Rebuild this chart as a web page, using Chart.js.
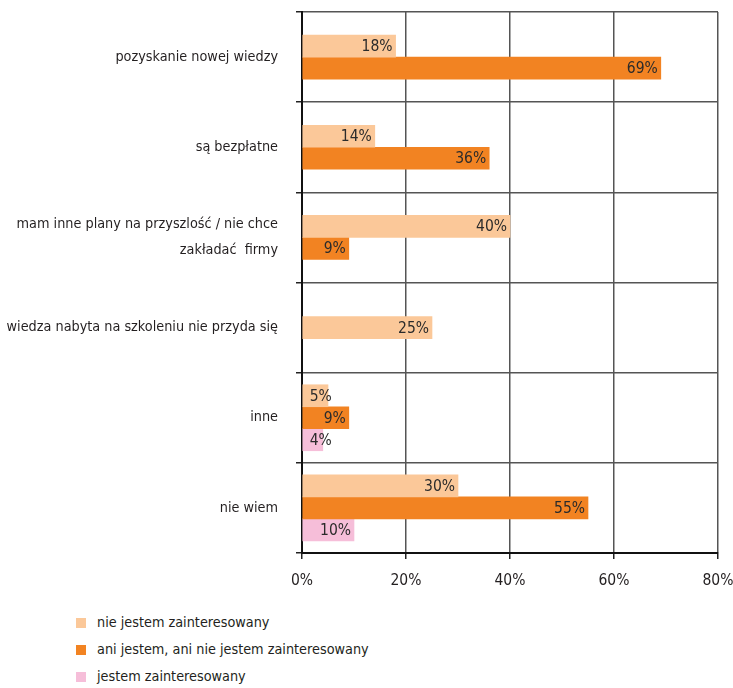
<!DOCTYPE html>
<html>
<head>
<meta charset="utf-8">
<script src="https://cdn.jsdelivr.net/npm/chart.js@4"></script>
<style>
    body { margin: 0; background: #fff; }
    #wrap { position: relative; width: 733px; height: 688px; }
    #legend { position: absolute; left: 76px; top: 609px; font: 14.3px "DejaVu Sans Condensed", "Liberation Sans Narrow", sans-serif; color: #231f20; }
    #legend div { height: 27px; line-height: 27px; }
    #legend span { display: inline-block; width: 10px; height: 10px; margin-right: 11px; vertical-align: -1px; }
</style>
</head>
<body>
<div id="wrap">
    <canvas id="powody" width="733" height="600"></canvas>
    <div id="legend"></div>
</div>
<script>
const categories = [
    'pozyskanie nowej wiedzy',
    'są bezpłatne',
    ['mam inne plany na przyszlość / nie chce', 'zakładać  firmy'],
    'wiedza nabyta na szkoleniu nie przyda się',
    'inne',
    'nie wiem'
];
const seriesNames = ['nie jestem zainteresowany', 'ani jestem, ani nie jestem zainteresowany', 'jestem zainteresowany'];
const notInterested = [18, 14, 40, 25, 5, 30];
const neutral = [69, 36, 9, null, 9, 55];
const interested = [null, null, null, null, 4, 10];
const xTicks = [0, 20, 40, 60, 80];

const colors = ['#fbc899', '#f28322', '#f6bed9'];
const fontFamily = '"DejaVu Sans Condensed", "Liberation Sans Narrow", sans-serif';
const textColor = '#231f20';

// percentage written at the inner end of every bar
const valueLabels = {
    id: 'valueLabels',
    afterDatasetsDraw(chart) {
        var ctx = chart.ctx;
        ctx.save();
        ctx.font = '15.5px ' + fontFamily;
        ctx.fillStyle = '#2b2b2b';
        ctx.textAlign = 'right';
        ctx.textBaseline = 'middle';
        chart.data.datasets.forEach(function (ds, i) {
            chart.getDatasetMeta(i).data.forEach(function (bar, j) {
                var v = ds.data[j];
                if (v == null) return;
                var text = v + '%';
                var w = ctx.measureText(text).width;
                var x = Math.max(bar.x - 3, bar.base + 7 + w);
                ctx.fillText(text, x, bar.y + 1);
            });
        });
        ctx.restore();
    }
};

var ctx = document.getElementById('powody').getContext('2d');
var chart = new Chart(ctx, {
    type: 'bar',
    data: {
        labels: categories,
        datasets: [notInterested, neutral, interested].map(function (d, i) {
            return {
                label: seriesNames[i],
                data: d,
                backgroundColor: colors[i],
                borderWidth: 0,
                barThickness: 22,
                skipNull: true
            };
        })
    },
    options: {
        indexAxis: 'y',
        responsive: false,
        animation: false,
        layout: { padding: { top: 12, right: 15, left: 0, bottom: 0 } },
        plugins: {
            legend: { display: false },
            tooltip: { enabled: false }
        },
        scales: {
            x: {
                min: xTicks[0],
                max: xTicks[xTicks.length - 1],
                afterBuildTicks: function (s) { s.ticks = xTicks.map(function (v) { return { value: v }; }); },
                afterFit: function (s) { s.height = 47; s.paddingLeft = 0; s.paddingRight = 0; },
                ticks: {
                    callback: function (v) { return v + '%'; },
                    font: { family: fontFamily, size: 15.5 },
                    color: textColor,
                    padding: 13
                },
                grid: { color: '#555', lineWidth: 1.5, tickLength: 6, tickColor: '#222' },
                border: { color: '#111', width: 2 }
            },
            y: {
                afterFit: function (s) { s.width = 302; s.paddingTop = 0; s.paddingBottom = 0; },
                ticks: {
                    autoSkip: false,
                    font: { family: fontFamily, size: 14.3, lineHeight: 1.85 },
                    color: textColor,
                    padding: 18
                },
                grid: { offset: true, color: '#555', lineWidth: 1.5, tickLength: 6, tickColor: '#222' },
                border: { color: '#111', width: 2 }
            }
        }
    },
    plugins: [valueLabels]
});

// legend as a plain vertical list under the chart
var legend = document.getElementById('legend');
chart.data.datasets.forEach(function (ds) {
    var row = document.createElement('div');
    row.innerHTML = '<span style="background:' + ds.backgroundColor + '"></span>' + ds.label;
    legend.appendChild(row);
});
</script>
</body>
</html>
